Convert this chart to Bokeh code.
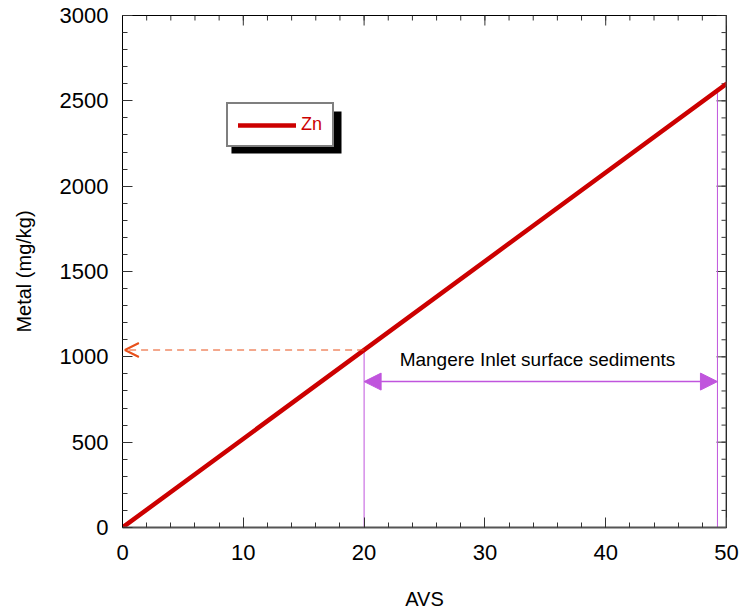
import math
from bokeh.plotting import figure
from bokeh.models import (Range1d, Arrow, NormalHead, OpenHead, Legend, LegendItem,
                          BoxAnnotation, Label, FixedTicker, ColumnDataSource, Span)
from bokeh.embed import file_html
from bokeh.resources import INLINE

# data
avs = [0, 50]
zn_metal = [0, 2600]
marker_avs = 20
marker_metal = 1040
range_end_avs = 49.25
range_end_metal = 2561
range_arrow_metal = 855
label_text = "Mangere Inlet surface sediments"
label_avs = 34.35
label_metal = 984
x_major = [0, 10, 20, 30, 40, 50]
x_minor = list(range(0, 51, 2))
y_major = [0, 500, 1000, 1500, 2000, 2500, 3000]
y_minor = list(range(0, 3001, 100))

FONT = "Liberation Sans"
RED = "#CC0000"
PURPLE = "#C055DD"
ORANGE = "#E8501A"
AXIS_GRAY = "#555555"

X_MAX = 50
Y_MAX = 3000

p = figure(width=741, height=616, output_backend="svg", toolbar_location=None,
           x_range=Range1d(0, X_MAX), y_range=Range1d(0, Y_MAX),
           min_border_left=122, min_border_right=15, min_border_top=15, min_border_bottom=89,
           x_axis_label="AVS", y_axis_label="Metal (mg/kg)")
p.grid.visible = False
p.outline_line_color = "black"
p.outline_line_width = 1

def style_axis(ax, ticks, minors):
    ax.ticker = FixedTicker(ticks=ticks, minor_ticks=minors)
    ax.major_tick_in = 10
    ax.major_tick_out = 0
    ax.minor_tick_in = 5
    ax.minor_tick_out = 0
    ax.major_tick_line_color = "#333333"
    ax.minor_tick_line_color = "#333333"
    ax.major_label_text_font = FONT
    ax.major_label_text_font_size = "22px"
    ax.major_label_text_color = "black"
    ax.axis_label_text_font = FONT
    ax.axis_label_text_font_size = "20px"
    ax.axis_label_text_font_style = "normal"
    ax.axis_label_text_color = "black"

style_axis(p.xaxis[0], x_major, x_minor)
style_axis(p.yaxis[0], y_major, y_minor)
p.xaxis[0].axis_line_color = AXIS_GRAY
p.xaxis[0].axis_line_width = 2
p.xaxis[0].major_label_standoff = 17
p.xaxis[0].axis_label_standoff = 25
p.yaxis[0].axis_line_color = "black"
p.yaxis[0].axis_line_width = 1
p.yaxis[0].major_label_standoff = 14
p.yaxis[0].axis_label_standoff = 22

# right edge line and mirrored ticks on top / right
p.add_layout(Span(location=X_MAX, dimension="height", line_color=AXIS_GRAY, line_width=2))
tick_col = "#333333"
p.ray(x=x_major, y=[Y_MAX] * len(x_major), length=10, length_units="screen",
      angle=-math.pi / 2, line_color=tick_col, line_width=1)
p.ray(x=x_minor, y=[Y_MAX] * len(x_minor), length=5, length_units="screen",
      angle=-math.pi / 2, line_color=tick_col, line_width=1)
p.ray(x=[X_MAX] * len(y_major), y=y_major, length=10, length_units="screen",
      angle=math.pi, line_color=tick_col, line_width=1)
p.ray(x=[X_MAX] * len(y_minor), y=y_minor, length=5, length_units="screen",
      angle=math.pi, line_color=tick_col, line_width=1)

# vertical guide lines
seg_src = ColumnDataSource(dict(x0=[marker_avs, range_end_avs], y0=[0, 0],
                                x1=[marker_avs, range_end_avs], y1=[marker_metal, range_end_metal]))
p.segment(x0="x0", y0="y0", x1="x1", y1="y1", source=seg_src, line_color=PURPLE, line_width=1)

# Zn line
zn = p.line(avs, zn_metal, line_color=RED, line_width=4.5, line_cap="round")

# dashed arrow to y axis
p.add_layout(Arrow(x_start=marker_avs, y_start=marker_metal, x_end=0.2, y_end=marker_metal,
                   line_color=ORANGE, line_width=1, line_dash="7 5",
                   end=OpenHead(size=14, line_color=ORANGE, line_width=2)))

# double arrow range
p.add_layout(Arrow(x_start=marker_avs, y_start=range_arrow_metal, x_end=range_end_avs, y_end=range_arrow_metal,
                   line_color=PURPLE, line_width=1.5,
                   start=NormalHead(size=17, fill_color=PURPLE, line_color=PURPLE),
                   end=NormalHead(size=17, fill_color=PURPLE, line_color=PURPLE)))

p.add_layout(Label(x=label_avs, y=label_metal, text=label_text,
                   text_align="center", text_baseline="middle", text_font=FONT,
                   text_font_size="19px", text_color="black"))

# legend with drop shadow
p.add_layout(BoxAnnotation(left=9.02, right=18.13, bottom=2191, top=2437,
                           fill_color="black", fill_alpha=1, line_alpha=0))
legend = Legend(items=[LegendItem(label="Zn", renderers=[zn])], location=(104, 380),
                border_line_color="black", border_line_width=2, background_fill_alpha=1,
                glyph_width=58, label_standoff=5, padding=10, margin=0,
                label_text_font=FONT, label_text_font_size="18px", label_text_color=RED)
p.add_layout(legend)

open("out.html", "w").write(file_html(p, INLINE))
